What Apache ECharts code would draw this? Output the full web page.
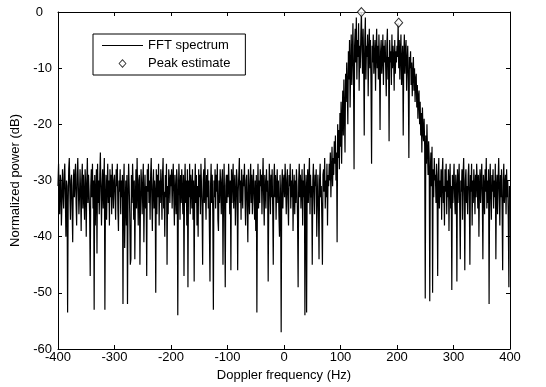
<!DOCTYPE html>
<html>
<head>
<meta charset="utf-8">
<script src="https://cdn.jsdelivr.net/npm/echarts@6/dist/echarts.min.js"></script>
<style>
html,body{margin:0;padding:0;background:#fff;}
#chart{width:546px;height:387px;}
</style>
</head>
<body>
<div id="chart"></div>
<script>
// FFT bin spacing (Hz) and the first bin of each 100 Hz block
const binStepHz = 1;
const blockStartHz = [-400, -300, -200, -100, 0, 100, 200, 300];

// Normalized power (dB), one array per 100 Hz block
const powerM400 = [
  -31,-27,-33,-36,-29,-30,-38,-34,-28,-32,
  -35,-29,-27,-33,-40,-30,-31,-53.5,-34,-28,
  -26,-32,-37,-30,-29,-35,-41,-31,-28,-33,
  -30,-27,-34,-38,-29,-26,-31,-36,-33,-28,
  -32,-39,-30,-27,-35,-29,-33,-37,-28,-31,
  -40,-30,-26,-34,-29,-32,-36,-47,-31,-28,
  -33,-27,-35,-30,-53,-29,-38,-32,-28,-43,
  -27,-34,-30,-36,-29,-25,-32,-38,-31,-28,
  -35,-30,-26,-53,-33,-29,-37,-31,-27,-34,
  -30,-38,-28,-33,-29,-36,-27,-31,-35,-30];
const powerM300 = [
  -29,-33,-37,-28,-31,-27,-35,-39,-30,-32,
  -28,-36,-30,-33,-29,-52,-31,-27,-42,-34,
  -30,-38,-29,-52,-33,-27,-31,-36,-45,-44,
  -29,-34,-27,-31,-37,-30,-44,-33,-28,-35,
  -26,-32,-38,-30,-29,-45,-34,-28,-31,-36,
  -30,-27,-41,-33,-29,-35,-31,-47,-28,-32,
  -27,-34,-30,-37,-29,-26,-33,-39,-31,-28,
  -35,-30,-32,-50,-28,-36,-29,-33,-27,-38,
  -30,-34,-28,-31,-37,-29,-26,-35,-32,-40,
  -29,-33,-27,-45,-31,-36,-28,-30,-34,-29];
const powerM200 = [
  -31,-28,-35,-30,-27,-33,-38,-29,-32,-36,
  -28,-30,-54,-33,-27,-31,-37,-29,-34,-28,
  -32,-36,-29,-47,-31,-27,-34,-30,-38,-28,
  -49,-30,-33,-27,-36,-29,-31,-35,-28,-37,
  -30,-48,-32,-27,-34,-29,-38,-31,-40,-28,
  -33,-29,-36,-27,-31,-35,-45,-30,-28,-34,
  -26,-32,-37,-29,-33,-28,-35,-30,-39,-48,
  -31,-27,-34,-29,-36,-53,-30,-33,-28,-35,
  -29,-32,-27,-37,-39,-30,-34,-28,-31,-36,
  -30,-28,-45,-33,-27,-35,-49,-31,-29,-34];
const powerM100 = [
  -29,-33,-27,-31,-36,-30,-46,-28,-34,-30,
  -27,-35,-31,-29,-38,-33,-28,-30,-46,-32,
  -29,-26,-34,-30,-37,-28,-32,-35,-29,-31,
  -27,-33,-38,-30,-29,-35,-41,-28,-32,-36,
  -30,-27,-34,-29,-36,-31,-28,-33,-37,-30,
  -39,-29,-53.5,-32,-27,-35,-30,-34,-28,-31,
  -29,-36,-30,-26,-33,-38,-29,-31,-35,-28,
  -32,-30,-48,-34,-27,-31,-36,-29,-33,-28,
  -35,-45,-30,-27,-33,-29,-37,-31,-28,-34,
  -30,-36,-40,-29,-33,-57,-31,-28,-35,-30];
const powerP000 = [
  -29,-33,-27,-31,-36,-30,-28,-34,-38,-29,
  -31,-27,-35,-30,-33,-28,-39,-32,-29,-36,
  -30,-34,-28,-31,-37,-49,-30,-27,-33,-29,
  -35,-31,-28,-38,-30,-33,-27,-54,-32,-29,
  -53.5,-31,-28,-34,-30,-26,-36,-29,-33,-31,
  -45,-30,-27,-32,-36,-29,-31,-28,-40,-33,
  -29,-35,-44,-30,-27,-33,-31,-37,-45,-29,
  -28,-32,-26,-35,-30,-33,-27,-38,-29,-31,
  -27,-30,-25,-33,-28,-24,-31,-26,-29,-23,
  -27,-22,-30,-25,-41,-20,-26,-21,-28,-18];
const powerP100 = [
  -24,-16,-27,-19,-14,-22,-12,-18,-25,-11,
  -16,-9,-14,-20,-7,-12,-5,-17,-10,-4,
  -13,-8,-2,-11,-28,-6,-3,-9,-1,-12,
  -5,-8,-2,-14,-6,-10,-4,0,-7,-11,
  -3,-9,-22,-5,-1,-12,-6,-8,-4,-15,
  -7,-3,-10,-5,-13,-27,-6,-9,-4,-11,
  -8,-5,-14,-7,-3,-10,-6,-12,-4,-9,
  -21,-7,-5,-11,-8,-4,-13,-6,-9,-5,
  -10,-15,-6,-3,-12,-8,-23,-5,-9,-7,
  -13,-4,-10,-6,-8,-14,-5,-11,-7,-9];
const powerP200 = [
  -6,-8,-2,-10,-5,-12,-7,-4,-13,-9,
  -6,-22,-8,-4,-11,-7,-5,-14,-9,-6,
  -12,-26,-8,-10,-7,-13,-9,-15,-11,-8,
  -14,-10,-16,-12,-11,-17,-13,-19,-15,-14,
  -20,-16,-22,-18,-25,-17,-21,-23,-19,-24,
  -51,-22,-27,-20,-25,-29,-23,-26,-51.5,-28,
  -25,-31,-24,-50,-28,-33,-26,-30,-29,-34,
  -27,-31,-47,-29,-26,-35,-30,-33,-28,-37,
  -29,-26,-34,-31,-38,-28,-32,-27,-36,-30,
  -33,-28,-39,-30,-27,-35,-31,-49.5,-29,-34];
const powerP300 = [
  -30,-27,-33,-36,-29,-31,-48,-28,-34,-30,
  -27,-35,-44,-30,-32,-28,-37,-29,-26,-33,
  -46,-30,-28,-34,-31,-36,-29,-27,-33,-45,
  -29,-32,-27,-38,-30,-34,-28,-31,-36,-29,
  -33,-27,-30,-35,-29,-40,-31,-28,-34,-30,
  -27,-33,-44,-29,-31,-36,-28,-32,-26,-35,
  -30,-34,-28,-52,-31,-27,-33,-37,-29,-32,
  -28,-35,-30,-33,-27,-44,-31,-29,-36,-30,
  -26,-32,-38,-29,-33,-28,-35,-46,-30,-27,
  -34,-31,-29,-36,-28,-33,-30,-37,-49,-31,
  -32];

// Peak estimates
const peakFreqHz = [137, 203];
const peakPowerDb = [0, -1.9];

// Axis ticks
const xTicks = {min: -400, max: 400, interval: 100};
const yTicks = {min: -60, max: 0, interval: 10};

const blocks = [powerM400, powerM300, powerM200, powerM100, powerP000, powerP100, powerP200, powerP300];
const spectrum = [];
blocks.forEach((vals, b) => {
  vals.forEach((v, i) => spectrum.push([blockStartHz[b] + i * binStepHz, v]));
});
const peaks = peakFreqHz.map((f, i) => [f, peakPowerDb[i]]);

const FONT = '"Liberation Sans", Arial, Helvetica, sans-serif';
const pad = ' M0,0L0.001,0L0,0.001Z M41,12L40.999,12L41,11.999Z';
const lineIcon = 'path://M0,5.5L41,5.5L41,6.5L0,6.5Z' + pad;
const diamondIcon = 'path://M20.5,1.5L24.5,6L20.5,10.5L16.5,6Z M20.5,2.9L17.6,6L20.5,9.1L23.4,6Z' + pad;

const axisCommon = {
  type: 'value',
  axisLine: {show: true, onZero: false, lineStyle: {color: '#000', width: 1}},
  axisTick: {show: true, inside: true, length: 4, lineStyle: {color: '#000', width: 1}},
  splitLine: {show: false}
};

const chart = echarts.init(document.getElementById('chart'), null, {renderer: 'canvas'});
chart.setOption({
  animation: false,
  backgroundColor: '#fff',
  textStyle: {fontFamily: FONT},
  grid: {left: 58, right: 36, top: 12, bottom: 37, containLabel: false},
  legend: {
    orient: 'vertical',
    left: 93,
    top: 34,
    padding: [5, 15, 5, 9],
    itemWidth: 41,
    itemHeight: 12,
    itemGap: 5,
    selectedMode: false,
    borderColor: '#000',
    borderWidth: 1,
    borderRadius: 0,
    backgroundColor: '#fff',
    textStyle: {color: '#000', fontSize: 13, fontFamily: FONT},
    data: [
      {name: 'FFT spectrum', icon: lineIcon, itemStyle: {color: '#000', borderWidth: 0}},
      {name: 'Peak estimate', icon: diamondIcon, itemStyle: {color: '#000', borderWidth: 0}}
    ]
  },
  xAxis: [
    Object.assign({}, axisCommon, {
      position: 'bottom',
      min: xTicks.min, max: xTicks.max, interval: xTicks.interval,
      name: 'Doppler frequency (Hz)',
      nameLocation: 'middle',
      nameGap: 20,
      nameTextStyle: {color: '#000', fontSize: 13, fontFamily: FONT},
      axisLabel: {color: '#000', fontSize: 13, fontFamily: FONT, margin: 2}
    }),
    Object.assign({}, axisCommon, {
      position: 'top',
      min: xTicks.min, max: xTicks.max, interval: xTicks.interval,
      axisLabel: {show: false}
    })
  ],
  yAxis: [
    Object.assign({}, axisCommon, {
      position: 'left',
      min: yTicks.min, max: yTicks.max, interval: yTicks.interval,
      name: 'Normalized power (dB)',
      nameLocation: 'middle',
      nameGap: 34,
      nameTextStyle: {color: '#000', fontSize: 13, fontFamily: FONT},
      axisLabel: {
        color: '#000', fontSize: 13, fontFamily: FONT, margin: 6,
        formatter: v => v === 0 ? '{z|0}' : String(v),
        rich: {z: {color: '#000', fontSize: 13, fontFamily: FONT, padding: [0, 9, 0, 0]}}
      }
    }),
    Object.assign({}, axisCommon, {
      position: 'right',
      min: yTicks.min, max: yTicks.max, interval: yTicks.interval,
      axisLabel: {show: false}
    })
  ],
  series: [
    {
      name: 'FFT spectrum',
      type: 'line',
      xAxisIndex: 0, yAxisIndex: 0,
      data: spectrum,
      showSymbol: false,
      symbol: 'none',
      lineStyle: {color: '#000', width: 1.2},
      itemStyle: {color: '#000'},
      z: 2
    },
    {
      name: 'Peak estimate',
      type: 'scatter',
      xAxisIndex: 0, yAxisIndex: 0,
      data: peaks,
      symbol: 'diamond',
      symbolSize: [8, 9],
      clip: false,
      itemStyle: {color: '#fff', borderColor: '#000', borderWidth: 1},
      z: 5
    }
  ]
});
</script>
</body>
</html>
